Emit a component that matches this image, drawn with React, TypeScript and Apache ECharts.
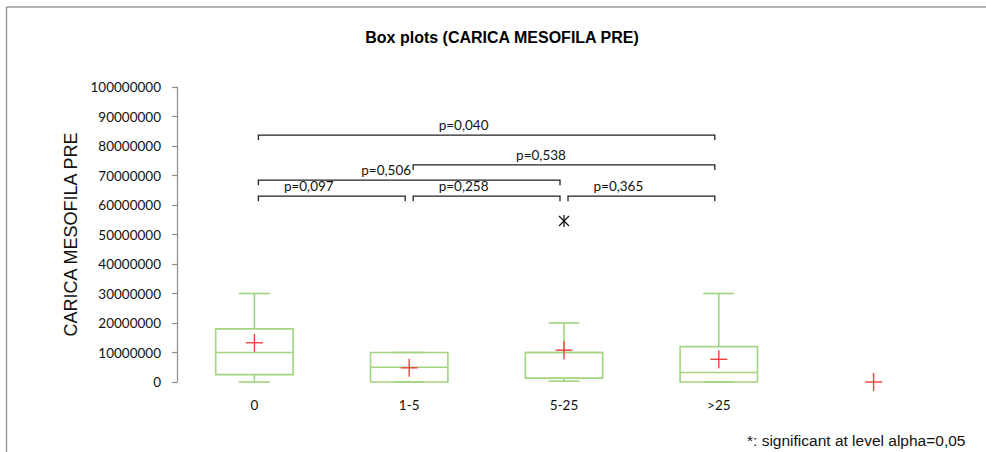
import React, { useEffect, useRef } from "react";
import * as echarts from "echarts";

const categories = ["0", "1-5", "5-25", ">25", ""];
const yTicks = { min: 0, max: 100000000, interval: 10000000 };
// [categoryIndex, min, q1, median, q3, max]
const boxValues = [
  [0, 0, 2500000, 10000000, 18000000, 30000000],
  [1, 0, 0, 5000000, 10000000, 10000000],
  [2, 300000, 1300000, 10000000, 10000000, 20000000],
  [3, 0, 0, 3200000, 12000000, 30000000],
];
const meanValues = [
  [0, 13300000],
  [1, 4800000],
  [2, 10800000],
  [3, 7700000],
  [4, 0],
];
const outlierValues = [[2, 54600000]];
// [fromIndex, toIndex, level, label]
const bracketValues: [number, number, number, string][] = [
  [0, 3, 83700000, "p=0,040"],
  [1, 3, 73600000, "p=0,538"],
  [0, 2, 68400000, "p=0,506"],
  [0, 1, 63000000, "p=0,097"],
  [1, 2, 63000000, "p=0,258"],
  [2, 3, 63000000, "p=0,365"],
];
const titleText = "Box plots (CARICA MESOFILA PRE)";
const yName = "CARICA MESOFILA PRE";
const footnote = "*: significant at level alpha=0,05";

const GREEN = "#a3d47f";
const RED = "#f23f3f";
const LABEL_FONT = "Lato, 'Open Sans', sans-serif";

export default function App() {
  const ref = useRef<HTMLDivElement>(null);
  useEffect(() => {
    if (!ref.current) return;
    const chart = echarts.init(ref.current, null, { renderer: "svg" });
    chart.setOption({
      animation: false,
      backgroundColor: "#ffffff",
      title: {
        text: titleText,
        left: 497,
        top: 24,
        textAlign: "center",
        textStyle: {
          fontFamily: "'Liberation Sans', Arial, sans-serif",
          fontWeight: "bold",
          fontSize: 16,
          color: "#000",
        },
      },
      grid: { left: 177, right: 35, top: 87, bottom: 70 },
      xAxis: {
        type: "category",
        data: categories,
        axisLine: { show: false },
        axisTick: { show: false },
        splitLine: { show: false },
        axisLabel: {
          margin: 16,
          color: "#111",
          fontFamily: LABEL_FONT,
          fontSize: 13.5,
        },
      },
      yAxis: {
        type: "value",
        min: yTicks.min,
        max: yTicks.max,
        interval: yTicks.interval,
        name: yName,
        nameLocation: "middle",
        nameGap: 96,
        nameTextStyle: {
          fontFamily: "'Liberation Sans', Arial, sans-serif",
          fontSize: 18,
          color: "#111",
        },
        axisLine: { show: true, lineStyle: { color: "#8c8c8c", width: 1.2 } },
        axisTick: { show: true, length: 5, lineStyle: { color: "#8c8c8c", width: 1.2 } },
        splitLine: { show: false },
        axisLabel: {
          margin: 16,
          color: "#111",
          fontFamily: LABEL_FONT,
          fontSize: 13.5,
          formatter: (v: number) => String(v),
        },
      },
      graphic: [
        {
          type: "line",
          shape: { x1: 6.5, y1: 7, x2: 986, y2: 7 },
          style: { stroke: "#9a9a9a", lineWidth: 1.5 },
        },
        {
          type: "line",
          shape: { x1: 6.5, y1: 7, x2: 6.5, y2: 452 },
          style: { stroke: "#9a9a9a", lineWidth: 1.5 },
        },
        {
          type: "text",
          left: 747,
          top: 432,
          style: {
            text: footnote,
            font: "15.5px 'Liberation Sans', Arial, sans-serif",
            fill: "#111",
          },
        },
      ],
      series: [
        {
          type: "custom",
          name: "box",
          data: boxValues,
          renderItem: (params: any, api: any) => {
            const idx = api.value(0);
            const band = api.size([1, 0])[0];
            const cx = api.coord([idx, 0])[0];
            const hw = band * 0.25;
            const cw = band * 0.1;
            const yMin = api.coord([idx, api.value(1)])[1];
            const yQ1 = api.coord([idx, api.value(2)])[1];
            const yMed = api.coord([idx, api.value(3)])[1];
            const yQ3 = api.coord([idx, api.value(4)])[1];
            const yMax = api.coord([idx, api.value(5)])[1];
            const st = { stroke: GREEN, lineWidth: 1.6, fill: "none" };
            return {
              type: "group",
              children: [
                { type: "line", shape: { x1: cx, y1: yMax, x2: cx, y2: yQ3 }, style: st },
                { type: "line", shape: { x1: cx, y1: yQ1, x2: cx, y2: yMin }, style: st },
                { type: "line", shape: { x1: cx - cw, y1: yMax, x2: cx + cw, y2: yMax }, style: st },
                { type: "line", shape: { x1: cx - cw, y1: yMin, x2: cx + cw, y2: yMin }, style: st },
                { type: "rect", shape: { x: cx - hw, y: yQ3, width: hw * 2, height: yQ1 - yQ3 }, style: st },
                { type: "line", shape: { x1: cx - hw, y1: yMed, x2: cx + hw, y2: yMed }, style: st },
              ],
            };
          },
          z: 2,
        },
        {
          type: "custom",
          name: "mean",
          data: meanValues,
          renderItem: (params: any, api: any) => {
            const p = api.coord([api.value(0), api.value(1)]);
            const st = { stroke: RED, lineWidth: 1.4 };
            return {
              type: "group",
              children: [
                { type: "line", shape: { x1: p[0] - 8.5, y1: p[1], x2: p[0] + 8.5, y2: p[1] }, style: st },
                { type: "line", shape: { x1: p[0], y1: p[1] - 9, x2: p[0], y2: p[1] + 9 }, style: st },
              ],
            };
          },
          z: 3,
        },
        {
          type: "custom",
          name: "outlier",
          data: outlierValues,
          renderItem: (params: any, api: any) => {
            const p = api.coord([api.value(0), api.value(1)]);
            const st = { stroke: "#111", lineWidth: 1.3 };
            const r = 5;
            return {
              type: "group",
              children: [
                { type: "line", shape: { x1: p[0] - r, y1: p[1] - r, x2: p[0] + r, y2: p[1] + r }, style: st },
                { type: "line", shape: { x1: p[0] - r, y1: p[1] + r, x2: p[0] + r, y2: p[1] - r }, style: st },
                { type: "line", shape: { x1: p[0], y1: p[1] - r - 1, x2: p[0], y2: p[1] + r + 1 }, style: st },
              ],
            };
          },
          z: 3,
        },
        {
          type: "custom",
          name: "brackets",
          data: bracketValues.map((b) => [b[0], b[1], b[2]]),
          renderItem: (params: any, api: any) => {
            const b = bracketValues[params.dataIndex];
            const a = api.coord([api.value(0), api.value(2)]);
            const c = api.coord([api.value(1), api.value(2)]);
            const x1 = a[0] + 4;
            const x2 = c[0] - 4;
            const y = a[1];
            const mid = (x1 + x2) / 2 - 23;
            return {
              type: "group",
              children: [
                {
                  type: "polyline",
                  shape: { points: [[x1, y + 5], [x1, y], [x2, y], [x2, y + 5]] },
                  style: { stroke: "#222", lineWidth: 1.3, fill: "none" },
                },
                {
                  type: "text",
                  style: {
                    text: b[3],
                    x: mid,
                    y: y - 10,
                    align: "center",
                    verticalAlign: "middle",
                    textAlign: "center",
                    textVerticalAlign: "middle",
                    font: "13.5px Lato, 'Open Sans', sans-serif",
                    fill: "#111",
                  },
                },
              ],
            };
          },
          z: 4,
        },
      ],
    });
    return () => chart.dispose();
  }, []);
  return (
    <div
      ref={ref}
      style={{ position: "fixed", left: 0, top: 0, width: 986, height: 452 }}
    />
  );
}
